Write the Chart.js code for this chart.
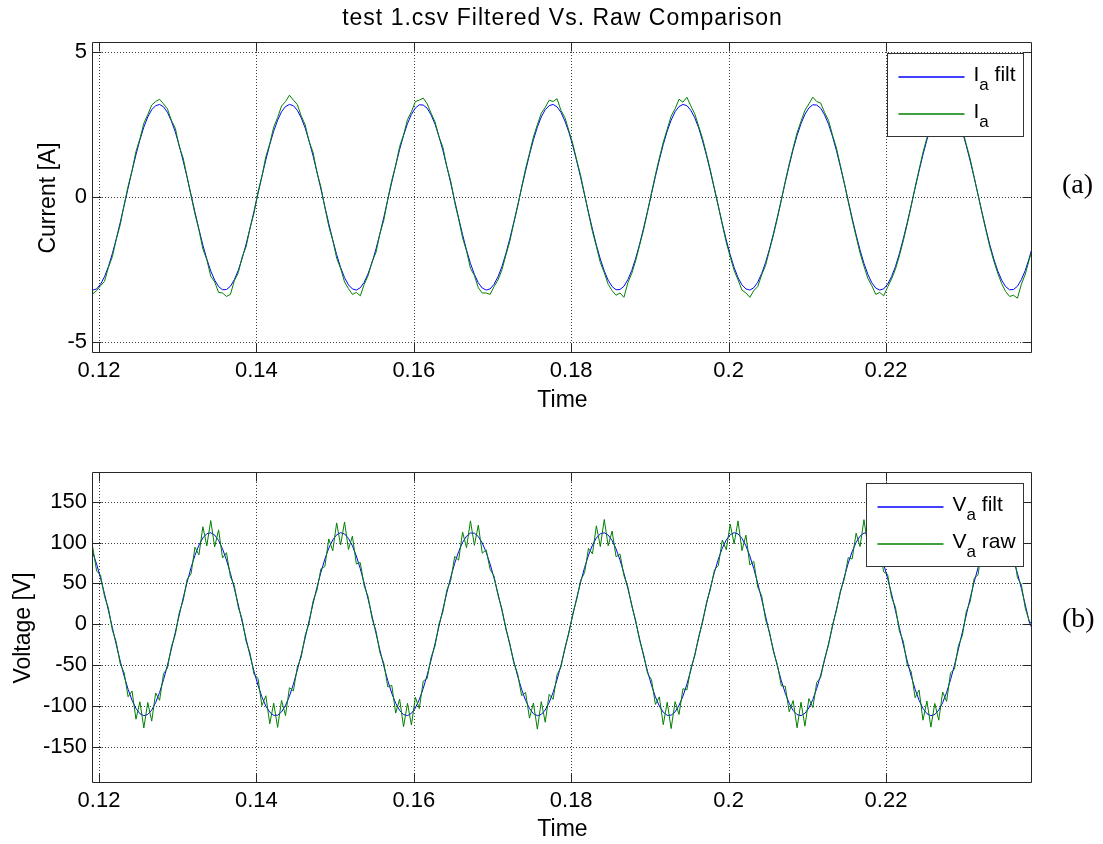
<!DOCTYPE html>
<html>
<head>
<meta charset="utf-8">
<title>test 1.csv Filtered Vs. Raw Comparison</title>
<script src="https://cdn.jsdelivr.net/npm/chart.js@4.4.1/dist/chart.umd.min.js"></script>
<style>
  html, body { margin: 0; padding: 0; background: #fff; }
  #wrap { position: relative; width: 1103px; height: 844px; overflow: hidden; background: #fff; }
  canvas { position: absolute; left: 0; }
  #currentChart { top: 0; }
  #voltageChart { top: 422px; }
</style>
</head>
<body>
<div id="wrap">
  <canvas id="currentChart" width="1103" height="422"></canvas>
  <canvas id="voltageChart" width="1103" height="422"></canvas>
</div>
<script>
// samples every 0.5 ms starting at t = 0.1192 s
const sampleStart = 0.1192;
const sampleStep = 0.0005;

const timeTicks = [0.12, 0.14, 0.16, 0.18, 0.2, 0.22];
const currentTicks = [-5, 0, 5];
const voltageTicks = [-150, -100, -50, 0, 50, 100, 150];

const figureTitle = "test 1.csv Filtered Vs. Raw Comparison";
const currentLabels = ["I_a filt", "I_a"];
const voltageLabels = ["V_a filt", "V_a raw"];

const currentFilt = [
  -3.20,-3.16,-3.00,-2.74,-2.39,-1.94,-1.43,-0.87,-0.28,0.32,
  0.91,1.47,1.98,2.42,2.77,3.02,3.16,3.20,3.12,2.93,
  2.63,2.25,1.78,1.25,0.68,0.08,-0.52,-1.10,-1.65,-2.13,
  -2.54,-2.86,-3.08,-3.19,-3.18,-3.07,-2.84,-2.52,-2.10,-1.61,
  -1.06,-0.48,0.12,0.72,1.29,1.82,2.28,2.66,2.95,3.13,
  3.20,3.16,3.00,2.74,2.39,1.94,1.43,0.87,0.28,-0.32,
  -0.91,-1.47,-1.98,-2.42,-2.77,-3.02,-3.16,-3.20,-3.12,-2.93,
  -2.63,-2.25,-1.78,-1.25,-0.68,-0.08,0.52,1.10,1.65,2.13,
  2.54,2.86,3.08,3.19,3.18,3.07,2.84,2.52,2.10,1.61,
  1.06,0.48,-0.12,-0.72,-1.29,-1.82,-2.28,-2.66,-2.95,-3.13,
  -3.20,-3.16,-3.00,-2.74,-2.39,-1.94,-1.43,-0.87,-0.28,0.32,
  0.91,1.47,1.98,2.42,2.77,3.02,3.16,3.20,3.12,2.93,
  2.63,2.25,1.78,1.25,0.68,0.08,-0.52,-1.10,-1.65,-2.13,
  -2.54,-2.86,-3.08,-3.19,-3.18,-3.07,-2.84,-2.52,-2.10,-1.61,
  -1.06,-0.48,0.12,0.72,1.29,1.82,2.28,2.66,2.95,3.13,
  3.20,3.16,3.00,2.74,2.39,1.94,1.43,0.87,0.28,-0.32,
  -0.91,-1.47,-1.98,-2.42,-2.77,-3.02,-3.16,-3.20,-3.12,-2.93,
  -2.63,-2.25,-1.78,-1.25,-0.68,-0.08,0.52,1.10,1.65,2.13,
  2.54,2.86,3.08,3.19,3.18,3.07,2.84,2.52,2.10,1.61,
  1.06,0.48,-0.12,-0.72,-1.29,-1.82,-2.28,-2.66,-2.95,-3.13,
  -3.20,-3.16,-3.00,-2.74,-2.39,-1.94,-1.43,-0.87,-0.28,0.32,
  0.91,1.47,1.98,2.42,2.77,3.02,3.16,3.20,3.12,2.93,
  2.63,2.25,1.78,1.25,0.68,0.08,-0.52,-1.10,-1.65,-2.13,
  -2.54,-2.86,-3.08,-3.19,-3.18,-3.07,-2.84,-2.52,-2.10,-1.61
];

const currentRaw = [
  -3.33,-3.22,-3.05,-2.90,-2.42,-2.05,-1.45,-0.95,-0.25,0.38,
  0.92,1.58,2.02,2.55,2.85,3.18,3.30,3.38,3.22,3.05,
  2.65,2.38,1.75,1.35,0.70,0.05,-0.58,-1.12,-1.78,-2.15,
  -2.72,-2.92,-3.28,-3.30,-3.42,-3.35,-2.88,-2.60,-2.05,-1.70,
  -1.05,-0.55,0.18,0.72,1.40,1.85,2.42,2.75,3.15,3.30,
  3.52,3.35,3.20,2.80,2.50,1.92,1.55,0.85,0.35,-0.35,
  -1.00,-1.48,-2.10,-2.45,-2.92,-3.15,-3.35,-3.28,-3.40,-3.00,
  -2.70,-2.22,-1.90,-1.25,-0.78,-0.05,0.58,1.10,1.75,2.15,
  2.68,2.95,3.30,3.35,3.42,3.22,2.90,2.60,2.08,1.72,
  1.05,0.55,-0.18,-0.75,-1.40,-1.85,-2.45,-2.70,-3.12,-3.30,
  -3.30,-3.35,-3.08,-2.85,-2.50,-2.00,-1.52,-0.90,-0.32,0.35,
  0.98,1.52,2.08,2.50,2.90,3.10,3.35,3.30,3.40,3.00,
  2.75,2.30,1.85,1.28,0.75,0.10,-0.55,-1.18,-1.70,-2.25,
  -2.60,-3.00,-3.22,-3.38,-3.30,-3.45,-2.95,-2.62,-2.18,-1.65,
  -1.12,-0.50,0.15,0.78,1.35,1.90,2.35,2.80,3.05,3.38,
  3.28,3.45,3.15,2.88,2.45,2.02,1.48,0.92,0.30,-0.30,
  -0.95,-1.55,-2.05,-2.52,-2.85,-3.20,-3.30,-3.45,-3.22,-3.08,
  -2.68,-2.35,-1.82,-1.30,-0.72,-0.10,0.55,1.15,1.70,2.22,
  2.62,3.00,3.22,3.45,3.30,3.25,2.92,2.65,2.15,1.70,
  1.10,0.50,-0.15,-0.78,-1.35,-1.92,-2.38,-2.80,-3.05,-3.35,
  -3.28,-3.40,-3.10,-2.82,-2.48,-2.02,-1.50,-0.92,-0.30,0.35,
  0.95,1.55,2.05,2.52,2.88,3.15,3.30,3.42,3.25,3.08,
  2.72,2.35,1.82,1.32,0.70,0.08,-0.55,-1.15,-1.72,-2.20,
  -2.62,-2.98,-3.25,-3.42,-3.38,-3.48,-3.00,-2.65,-2.15,-1.68
];

const voltageFilt = [
  88.1,73.5,56.3,37.2,16.7,-4.3,-25.2,-45.2,-63.6,-79.7,
  -93.1,-103.1,-109.5,-112.0,-110.5,-105.1,-96.0,-83.5,-68.0,-50.2,
  -30.5,-9.8,11.3,32.0,51.5,69.3,84.5,96.8,105.6,110.7,
  111.9,109.1,102.5,92.2,78.6,62.3,43.8,23.7,2.7,-18.3,
  -38.7,-57.7,-74.6,-89.0,-100.2,-107.8,-111.6,-111.4,-107.3,-99.4,
  -88.1,-73.5,-56.3,-37.2,-16.7,4.3,25.2,45.2,63.6,79.7,
  93.1,103.1,109.5,112.0,110.5,105.1,96.0,83.5,68.0,50.2,
  30.5,9.8,-11.3,-32.0,-51.5,-69.3,-84.5,-96.8,-105.6,-110.7,
  -111.9,-109.1,-102.5,-92.2,-78.6,-62.3,-43.8,-23.7,-2.7,18.3,
  38.7,57.7,74.6,89.0,100.2,107.8,111.6,111.4,107.3,99.4,
  88.1,73.5,56.3,37.2,16.7,-4.3,-25.2,-45.2,-63.6,-79.7,
  -93.1,-103.1,-109.5,-112.0,-110.5,-105.1,-96.0,-83.5,-68.0,-50.2,
  -30.5,-9.8,11.3,32.0,51.5,69.3,84.5,96.8,105.6,110.7,
  111.9,109.1,102.5,92.2,78.6,62.3,43.8,23.7,2.7,-18.3,
  -38.7,-57.7,-74.6,-89.0,-100.2,-107.8,-111.6,-111.4,-107.3,-99.4,
  -88.1,-73.5,-56.3,-37.2,-16.7,4.3,25.2,45.2,63.6,79.7,
  93.1,103.1,109.5,112.0,110.5,105.1,96.0,83.5,68.0,50.2,
  30.5,9.8,-11.3,-32.0,-51.5,-69.3,-84.5,-96.8,-105.6,-110.7,
  -111.9,-109.1,-102.5,-92.2,-78.6,-62.3,-43.8,-23.7,-2.7,18.3,
  38.7,57.7,74.6,89.0,100.2,107.8,111.6,111.4,107.3,99.4,
  88.1,73.5,56.3,37.2,16.7,-4.3,-25.2,-45.2,-63.6,-79.7,
  -93.1,-103.1,-109.5,-112.0,-110.5,-105.1,-96.0,-83.5,-68.0,-50.2,
  -30.5,-9.8,11.3,32.0,51.5,69.3,84.5,96.8,105.6,110.7,
  111.9,109.1,102.5,92.2,78.6,62.3,43.8,23.7,2.7,-8.3
];

const voltageRaw = [
  94.5,65.3,60.0,34.2,19.7,-7.3,-22.2,-48.5,-59.4,-88.8,
  -81.8,-116.3,-95.0,-127.0,-95.8,-118.7,-84.2,-93.2,-60.6,-53.7,
  -27.5,-12.8,14.3,29.0,55.0,61.7,94.3,84.8,119.3,96.0,
  126.9,94.7,115.5,81.1,87.5,58.1,47.1,20.7,5.7,-21.3,
  -35.7,-61.5,-66.3,-99.6,-87.6,-121.9,-96.7,-126.3,-93.3,-111.9,
  -77.7,-81.7,-52.6,-40.2,-13.7,1.3,28.2,41.9,67.8,70.6,
  104.4,89.9,124.0,97.0,125.2,91.5,107.8,73.8,75.4,46.7,
  33.5,6.8,-8.3,-35.0,-48.0,-76.9,-74.7,-108.8,-91.9,-125.4,
  -96.9,-123.5,-89.5,-103.3,-69.7,-66.5,-40.5,-26.7,0.3,15.3,
  41.7,53.9,82.9,78.4,112.8,93.7,126.5,96.5,121.3,86.9,
  91.0,67.0,58.8,35.5,18.6,-6.0,-23.5,-47.2,-60.8,-87.5,
  -83.5,-115.0,-96.5,-128.5,-94.8,-120.0,-85.8,-92.0,-62.0,-52.5,
  -28.8,-11.5,13.0,30.2,53.8,63.0,92.8,86.2,120.5,95.0,
  128.2,96.0,114.0,82.5,86.0,59.5,45.8,22.0,4.5,-20.0,
  -37.0,-60.2,-67.8,-98.2,-89.0,-123.0,-95.5,-127.8,-94.8,-110.5,
  -79.0,-80.5,-54.0,-39.0,-15.0,2.5,27.0,43.2,66.5,72.0,
  103.0,91.2,122.5,98.5,126.5,90.0,109.0,72.5,76.8,45.5,
  34.8,5.5,-9.5,-33.8,-49.5,-75.5,-76.0,-107.2,-93.5,-126.8,
  -95.5,-124.8,-91.0,-102.0,-71.2,-65.2,-42.0,-25.5,-1.0,16.5,
  40.5,55.2,81.5,79.8,111.5,95.0,128.0,95.2,122.5,85.5,
  93.5,64.0,61.2,33.0,20.8,-8.5,-21.0,-49.8,-58.2,-90.0,
  -80.5,-117.5,-94.0,-126.0,-97.0,-117.5,-83.0,-94.5,-59.5,-55.0,
  -26.2,-14.0,15.5,27.8,56.2,60.5,95.5,83.5,118.0,97.5,
  125.5,93.5,116.8,80.0,88.8,57.0,48.2,19.5,4.0,-2.0
];

const FONT = '"Liberation Sans", Arial, Helvetica, sans-serif';
const SERIF = '"Liberation Serif", "Times New Roman", serif';
const BLUE = "#0000ff";
const GREEN = "#008000";

Chart.defaults.color = "#000";
Chart.defaults.font.family = FONT;

function toPoints(values) {
  return values.map((v, i) => ({ x: sampleStart + i * sampleStep, y: v }));
}

// "I_a filt" -> ["I", "a", " filt"]
function splitLabel(text) {
  const k = text.indexOf("_");
  if (k < 0) return [text, "", ""];
  return [text.slice(0, k), text.charAt(k + 1), text.slice(k + 2)];
}

// MATLAB-ish axes: dotted grid, boxed frame with inward ticks, legend, panel tag
const matlabAxes = {
  id: "matlabAxes",
  beforeDatasetsDraw(chart) {
    const { ctx, chartArea: a, scales: { x, y } } = chart;
    ctx.save();
    ctx.strokeStyle = "#3c3c3c";
    ctx.lineWidth = 1;
    ctx.setLineDash([1, 2]);
    ctx.beginPath();
    for (const t of x.ticks) {
      const px = Math.round(x.getPixelForValue(t.value)) + 0.5;
      ctx.moveTo(px, a.top);
      ctx.lineTo(px, a.bottom);
    }
    for (const t of y.ticks) {
      const py = Math.round(y.getPixelForValue(t.value)) + 0.5;
      ctx.moveTo(a.left, py);
      ctx.lineTo(a.right, py);
    }
    ctx.stroke();
    ctx.restore();
  },
  afterDatasetsDraw(chart, args, opts) {
    const { ctx, chartArea: a, scales: { x, y } } = chart;
    ctx.save();

    const L = Math.round(a.left) - 0.5;
    const R = Math.round(a.right) - 0.5;
    const T = Math.round(a.top) - 0.5;
    const B = Math.round(a.bottom) - 0.5;
    const tl = 9;
    ctx.strokeStyle = "#262626";
    ctx.lineWidth = 1;
    ctx.beginPath();
    ctx.rect(L, T, R - L, B - T);
    for (const t of x.ticks) {
      const px = Math.round(x.getPixelForValue(t.value)) + 0.5;
      ctx.moveTo(px, B); ctx.lineTo(px, B - tl);
      ctx.moveTo(px, T); ctx.lineTo(px, T + tl);
    }
    for (const t of y.ticks) {
      const py = Math.round(y.getPixelForValue(t.value)) + 0.5;
      ctx.moveTo(L, py); ctx.lineTo(L + tl, py);
      ctx.moveTo(R, py); ctx.lineTo(R - tl, py);
    }
    ctx.stroke();

    // legend
    const labels = chart.data.datasets.map(ds => ds.label);
    const mainFont = `21px ${FONT}`;
    const subFont = `17px ${FONT}`;
    let textW = 0;
    const parts = labels.map(label => {
      const p = splitLabel(label);
      ctx.font = mainFont;
      const w0 = ctx.measureText(p[0]).width;
      const w2 = ctx.measureText(p[2]).width;
      ctx.font = subFont;
      const w1 = ctx.measureText(p[1]).width;
      textW = Math.max(textW, w0 + w1 + w2);
      return { p, w0, w1 };
    });
    const boxW = Math.round(86 + textW + 8);
    const boxH = 83;
    const bx = Math.round(a.right - 9 - boxW) + 0.5;
    const by = Math.round(a.top + 10) + 0.5;
    ctx.fillStyle = "#fff";
    ctx.fillRect(bx, by, boxW, boxH);
    ctx.strokeStyle = "#333";
    ctx.lineWidth = 1;
    ctx.strokeRect(bx, by, boxW, boxH);
    parts.forEach((item, i) => {
      const rowY = Math.round(by + 23 + i * 37);
      ctx.strokeStyle = opts.colors[i];
      ctx.lineWidth = 1.4;
      ctx.beginPath();
      ctx.moveTo(bx + 11, rowY);
      ctx.lineTo(bx + 77, rowY);
      ctx.stroke();
      ctx.fillStyle = "#000";
      ctx.textAlign = "left";
      ctx.textBaseline = "alphabetic";
      const tx = bx + 86;
      ctx.font = mainFont;
      ctx.fillText(item.p[0], tx, rowY + 4);
      ctx.font = subFont;
      ctx.fillText(item.p[1], tx + item.w0, rowY + 13);
      ctx.font = mainFont;
      ctx.fillText(item.p[2], tx + item.w0 + item.w1, rowY + 4);
    });

    // panel tag, (a) / (b)
    ctx.font = `28px ${SERIF}`;
    ctx.fillStyle = "#000";
    ctx.textAlign = "left";
    ctx.textBaseline = "alphabetic";
    ctx.fillText(opts.tag, 1062, opts.tagY);
    ctx.restore();
  },
  afterDraw(chart, args, opts) {
    if (!opts.title) return;
    const { ctx, chartArea: a } = chart;
    ctx.save();
    ctx.font = `23px ${FONT}`;
    if ("letterSpacing" in ctx) ctx.letterSpacing = "1px";
    ctx.fillStyle = "#000";
    ctx.textAlign = "center";
    ctx.textBaseline = "middle";
    ctx.fillText(opts.title, (a.left + a.right) / 2, 18.5);
    ctx.restore();
  }
};

function makePanel(canvasId, cfg) {
  return new Chart(document.getElementById(canvasId), {
    type: "line",
    data: {
      datasets: [
        {
          label: cfg.labels[0],
          data: toPoints(cfg.filt),
          borderColor: BLUE,
          borderWidth: 1,
          pointRadius: 0,
          tension: 0,
          order: 1
        },
        {
          label: cfg.labels[1],
          data: toPoints(cfg.raw),
          borderColor: GREEN,
          borderWidth: 1,
          pointRadius: 0,
          tension: 0,
          order: 0
        }
      ]
    },
    options: {
      responsive: false,
      animation: false,
      devicePixelRatio: 1,
      layout: { padding: { left: 0, right: 71, top: cfg.padTop, bottom: 0 } },
      plugins: {
        legend: { display: false },
        tooltip: { enabled: false },
        matlabAxes: { tag: cfg.tag, tagY: cfg.tagY, title: cfg.title, colors: [BLUE, GREEN] }
      },
      scales: {
        x: {
          type: "linear",
          min: 0.11924,
          max: 0.23855,
          afterBuildTicks: s => { s.ticks = timeTicks.map(v => ({ value: v })); },
          afterFit: s => { s.height = cfg.xHeight; },
          grid: { display: false, drawTicks: false },
          border: { display: false },
          ticks: {
            padding: 5,
            autoSkip: false,
            maxRotation: 0,
            font: { size: 22 },
            callback: v => String(v)
          },
          title: {
            display: true,
            text: "Time",
            font: { size: 23 },
            padding: { top: 0, bottom: cfg.xTitlePad }
          }
        },
        y: {
          type: "linear",
          min: cfg.yMin,
          max: cfg.yMax,
          afterBuildTicks: s => { s.ticks = cfg.yTicks.map(v => ({ value: v })); },
          afterFit: s => { s.width = 93; },
          grid: { display: false, drawTicks: false },
          border: { display: false },
          ticks: {
            padding: 6,
            autoSkip: false,
            font: { size: 22 },
            callback: v => String(v)
          },
          title: {
            display: true,
            text: cfg.yTitle,
            font: { size: 23 },
            padding: { top: cfg.yTitlePad, bottom: 0 }
          }
        }
      }
    },
    plugins: [matlabAxes]
  });
}

makePanel("currentChart", {
  filt: currentFilt,
  raw: currentRaw,
  labels: currentLabels,
  yTicks: currentTicks,
  yMin: -5.37,
  yMax: 5.32,
  yTitle: "Current [A]",
  yTitlePad: 35,
  padTop: 43,
  xHeight: 69,
  xTitlePad: 8,
  tag: "(a)",
  tagY: 193,
  title: figureTitle
});

makePanel("voltageChart", {
  filt: voltageFilt,
  raw: voltageRaw,
  labels: voltageLabels,
  yTicks: voltageTicks,
  yMin: -194.4,
  yMax: 185.1,
  yTitle: "Voltage [V]",
  yTitlePad: 9.5,
  padTop: 51,
  xHeight: 61,
  xTitlePad: 1,
  tag: "(b)",
  tagY: 205,
  title: null
});
</script>
</body>
</html>
